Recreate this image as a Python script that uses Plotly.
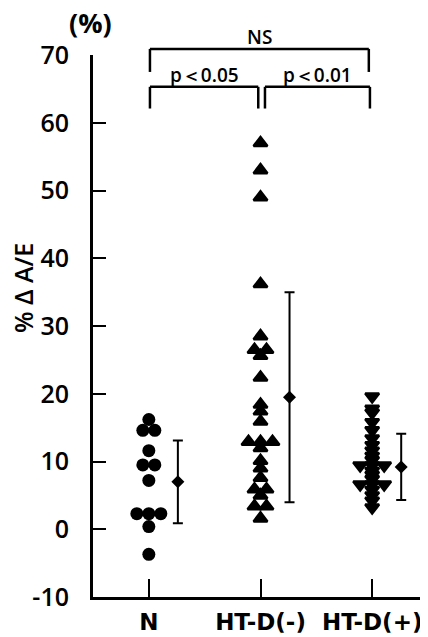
import plotly.graph_objects as go
from collections import Counter

# ---------------- data ----------------
categories = ["N", "HT-D(-)", "HT-D(+)"]
n_values = [16.2, 14.6, 14.6, 11.6, 9.5, 9.5, 7.2, 2.3, 2.3, 2.3, 0.4, -3.7]
htd_neg_values = [57, 53, 49, 36.2, 28.5, 26.5, 26.5, 25.6, 22.4, 18.4, 17.4,
                  15.9, 12.9, 12.9, 12.9, 12.0, 10.1, 9.0, 7.6, 5.9, 5.9, 5.0,
                  3.4, 3.4, 1.6]
htd_pos_values = [19.6, 17.8, 17.2, 15.8, 14.6, 13.4, 12.4, 11.6, 10.8, 10.2,
                  9.4, 9.4, 9.4, 8.6, 8.0, 7.4, 6.6, 6.6, 6.6, 5.8, 5.0, 4.2, 3.2]
mean_values = [7.0, 19.5, 9.2]
sd_values = [6.1, 15.5, 4.9]
y_tick_values = [-10, 0, 10, 20, 30, 40, 50, 60, 70]
y_tick_labels = ["-10", "0", "10", "20", "30", "40", "50", "60", "70"]

# ---------------- layout constants ----------------
OFF = 8                      # default page body margin
W, H = 428 - OFF, 637 - OFF
ML, MR, MT, MB = 93 - OFF, 0, 55 - OFF, 40
XR = [-0.5, 2.5]
YR = [-10, 70]
FONT = "Open Sans"
PW, PH = W - ML - MR, H - MT - MB
px_per_x = PW / (XR[1] - XR[0])


def tie_offsets(values, spacing_px=12.0):
    """Spread tied values side by side (classic dot plot)."""
    counts = Counter(values)
    seen = Counter()
    offs = []
    for v in values:
        k = counts[v]
        i = seen[v]
        seen[v] += 1
        offs.append((i - (k - 1) / 2) * spacing_px / px_per_x)
    return offs


def xp(x):
    return (x - XR[0]) / (XR[1] - XR[0])


def yp(y):
    return (y - YR[0]) / (YR[1] - YR[0])


def page_to_paper(px, py):
    return (px - OFF - ML) / PW, (H - MB - (py - OFF)) / PH


fig = go.Figure()

groups = [
    (0, n_values, "circle", 13, 0),
    (1, htd_neg_values, "triangle-up", 12, 2.5),
    (2, htd_pos_values, "triangle-down", 12, 2.5),
]
for cx, vals, sym, size, lw in groups:
    offs = tie_offsets(vals)
    fig.add_trace(go.Scatter(
        x=[cx + o for o in offs], y=vals, mode="markers",
        marker=dict(symbol=sym, size=size, color="black",
                    line=dict(color="black", width=lw)),
        showlegend=False, hoverinfo="y"))

# mean +/- SD
fig.add_trace(go.Scatter(
    x=[i + 0.26 for i in range(len(categories))], y=mean_values,
    mode="markers",
    marker=dict(symbol="diamond", size=10, color="black"),
    error_y=dict(type="data", array=sd_values, visible=True,
                 color="black", thickness=2, width=5),
    showlegend=False))

BF = dict(family=FONT, size=19, color="black", weight=600)


def bracket(x0, x1, y_top, y_leg, text, ty):
    for (a, b, c, d) in [(x0, y_top, x1, y_top), (x0, y_top, x0, y_leg), (x1, y_top, x1, y_leg)]:
        fig.add_shape(type="line", xref="paper", yref="paper",
                      x0=xp(a), y0=yp(b), x1=xp(c), y1=yp(d),
                      line=dict(color="black", width=2.5))
    fig.add_annotation(x=xp((x0 + x1) / 2), y=yp(ty), xref="paper", yref="paper",
                       text=text, showarrow=False, font=BF,
                       xanchor="center", yanchor="middle")

bracket(0.01, 1.97, 70.9, 67.5, "NS", 72.6)
bracket(0.01, 0.98, 65.3, 62.1, "p\uff1c0.05", 67.1)
bracket(1.04, 1.98, 65.3, 62.1, "p\uff1c0.01", 67.1)

ax_, ay_ = page_to_paper(90, 22)
fig.add_annotation(x=ax_, y=ay_, xref="paper", yref="paper", text="(%)", showarrow=False,
                   font=dict(family=FONT, size=27, color="black", weight=700),
                   xanchor="center", yanchor="middle")
tx_, ty_ = page_to_paper(23, 288)
fig.add_annotation(x=tx_, y=ty_, xref="paper", yref="paper", text="% \u0394 A/E",
                   showarrow=False, textangle=-90,
                   font=dict(family=FONT, size=25, color="black", weight=600),
                   xanchor="center", yanchor="middle")

fig.update_xaxes(range=XR, tickvals=list(range(len(categories))), ticktext=categories,
                 ticks="inside", ticklen=18, tickwidth=2, tickcolor="black",
                 showline=True, linewidth=3, linecolor="black",
                 showgrid=False, zeroline=False, ticklabelstandoff=2,
                 tickfont=dict(family="DejaVu Sans", size=23, color="black", weight=700))
fig.update_yaxes(range=YR, tickvals=y_tick_values, ticktext=y_tick_labels,
                 ticks="inside", ticklen=13, tickwidth=2, tickcolor="black",
                 showline=True, linewidth=3, linecolor="black",
                 showgrid=False, zeroline=False, ticklabelstandoff=16,
                 tickfont=dict(family=FONT, size=25, color="black", weight=600))
fig.update_layout(width=W, height=H, margin=dict(l=ML, r=MR, t=MT, b=MB),
                  plot_bgcolor="white", paper_bgcolor="white")

fig.write_html("out.html")
